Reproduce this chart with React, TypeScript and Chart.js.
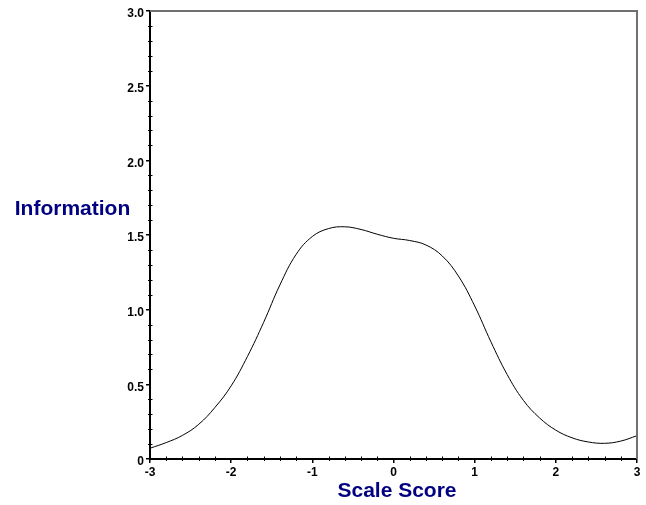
import React, { useEffect, useRef } from "react";
import { Chart, registerables } from "chart.js";

Chart.register(...registerables);

const scoreX: number[] = [-3, -2.8, -2.6, -2.4, -2.2, -2.0, -1.8, -1.6, -1.4, -1.2, -1.0, -0.8, -0.6, -0.4, -0.2, 0, 0.2, 0.4, 0.6, 0.8, 1.0, 1.2, 1.4, 1.6, 1.8, 2.0, 2.2, 2.4, 2.6, 2.8, 3.0];
const information: number[] = [0.072, 0.11, 0.158, 0.232, 0.345, 0.49, 0.686, 0.915, 1.165, 1.37, 1.49, 1.543, 1.555, 1.537, 1.505, 1.478, 1.463, 1.433, 1.36, 1.225, 1.025, 0.785, 0.566, 0.393, 0.275, 0.193, 0.142, 0.114, 0.105, 0.12, 0.156];

const yAxisTitle = "Information";
const xAxisTitle = "Scale Score";
const xRange: [number, number] = [-3, 3];
const yRange: [number, number] = [0, 3];

const FONT = '"Liberation Sans", Arial, sans-serif';
const NAVY = "#000080";

const decorPlugin = {
  id: "decor",
  afterDraw(chart: any) {
    const { ctx, chartArea, scales } = chart;
    const xs = scales.x;
    const ys = scales.y;
    ctx.save();
    // top and right frame
    ctx.strokeStyle = "#707070";
    ctx.lineWidth = 2;
    ctx.beginPath();
    ctx.moveTo(chartArea.left, chartArea.top);
    ctx.lineTo(chartArea.right, chartArea.top);
    ctx.lineTo(chartArea.right, chartArea.bottom);
    ctx.stroke();
    // minor ticks
    ctx.strokeStyle = "#000";
    ctx.lineWidth = 1;
    ctx.beginPath();
    for (let i = 0; i <= 30; i++) {
      if (i % 5 === 0) continue;
      const v = yRange[0] + i * 0.1;
      const py = Math.round(ys.getPixelForValue(v)) + 0.5;
      ctx.moveTo(chartArea.left - 2, py);
      ctx.lineTo(chartArea.left + 2.5, py);
    }
    for (let i = 0; i <= 30; i++) {
      if (i % 5 === 0) continue;
      const v = xRange[0] + i * 0.2;
      const px = Math.round(xs.getPixelForValue(v)) + 0.5;
      ctx.moveTo(px, chartArea.bottom + 2);
      ctx.lineTo(px, chartArea.bottom - 2.5);
    }
    ctx.stroke();
    // axis titles
    ctx.fillStyle = NAVY;
    ctx.font = `bold 21px ${FONT}`;
    ctx.textAlign = "center";
    ctx.textBaseline = "alphabetic";
    ctx.fillText(yAxisTitle, 72.5, 214.5);
    ctx.fillText(xAxisTitle, 397, 497);
    ctx.restore();
  },
};

export default function App() {
  const canvasRef = useRef<HTMLCanvasElement | null>(null);

  useEffect(() => {
    document.body.style.margin = "0";
    const canvas = canvasRef.current;
    if (!canvas) return;
    const chart = new Chart(canvas, {
      type: "line",
      data: {
        datasets: [
          {
            data: scoreX.map((x, i) => ({ x, y: information[i] })),
            borderColor: "#000",
            borderWidth: 1,
            pointRadius: 0,
            tension: 0.4,
            fill: false,
          },
        ],
      },
      options: {
        animation: false,
        responsive: false,
        maintainAspectRatio: false,
        layout: { padding: { left: 0, top: 11, right: 9, bottom: 0 } },
        plugins: {
          legend: { display: false },
          tooltip: { enabled: false },
        },
        scales: {
          x: {
            type: "linear",
            min: xRange[0],
            max: xRange[1],
            afterFit(scale: any) {
              scale.height = 46;
            },
            ticks: {
              stepSize: 1,
              color: "#000",
              font: { family: FONT, size: 12, weight: "bold" },
              padding: 2,
              maxRotation: 0,
              callback: (v: any) => String(v),
            },
            grid: {
              display: true,
              drawOnChartArea: false,
              drawTicks: true,
              tickLength: 4,
              color: "#000",
              lineWidth: 1.5,
            },
            border: { display: true, color: "#000", width: 2 },
          },
          y: {
            type: "linear",
            min: yRange[0],
            max: yRange[1],
            afterFit(scale: any) {
              scale.width = 150;
            },
            ticks: {
              stepSize: 0.5,
              color: "#000",
              font: { family: FONT, size: 12, weight: "bold" },
              padding: 2,
              labelOffset: 3,
              callback: (v: any) => (v === 0 ? "0" : Number(v).toFixed(1)),
            },
            grid: {
              display: true,
              drawOnChartArea: false,
              drawTicks: true,
              tickLength: 4,
              color: "#000",
              lineWidth: 1.5,
            },
            border: { display: true, color: "#000", width: 2 },
          },
        },
      },
      plugins: [decorPlugin],
    });
    return () => chart.destroy();
  }, []);

  return (
    <div style={{ position: "fixed", left: 0, top: 0, width: 646, height: 505, background: "#fff" }}>
      <canvas ref={canvasRef} width={646} height={505} style={{ width: 646, height: 505 }} />
    </div>
  );
}
